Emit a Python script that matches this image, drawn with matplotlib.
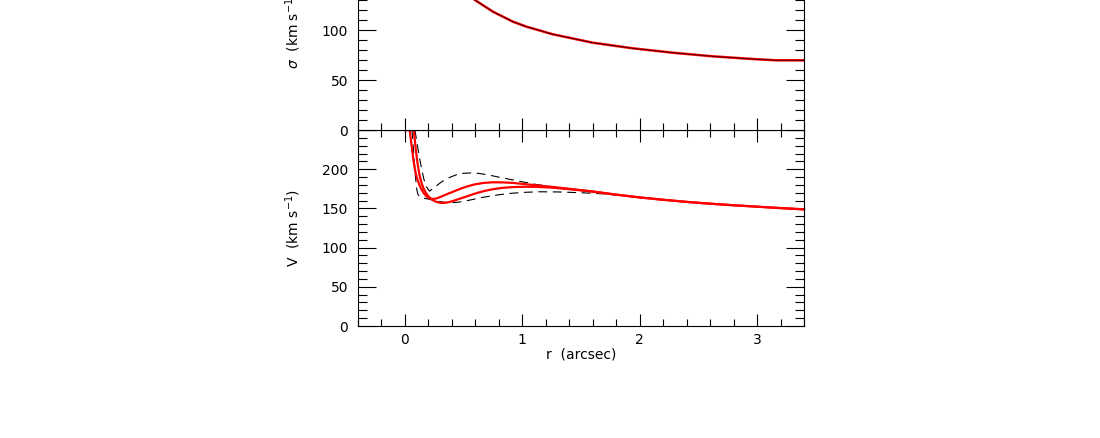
import numpy as np
import matplotlib
matplotlib.use('Agg')
import matplotlib.pyplot as plt
import matplotlib.ticker as mtick

plt.rcParams["font.family"] = "DejaVu Sans"

# sigma profile (top panel, upper part runs outside the frame)
r_sig = [0.30, 0.40, 0.50, 0.596, 0.75, 0.92, 1.036, 1.26, 1.60, 1.94, 2.28, 2.62, 2.96, 3.16, 3.40]
sig = [164, 150, 139, 130, 118.3, 108.3, 103.3, 95.7, 87.3, 81.7, 77.3, 73.7, 71, 69.7, 69.7]

# rotation curves (bottom panel)
r_red1 = [0.0, 0.04, 0.05, 0.06, 0.07, 0.08, 0.09, 0.10, 0.12, 0.14, 0.16, 0.18, 0.20, 0.22,
          0.24, 0.27, 0.30, 0.34, 0.38, 0.43, 0.48, 0.54, 0.60, 0.67, 0.75, 0.83, 0.92, 1.02,
          1.12, 1.25, 1.40, 1.60, 1.80, 2.00, 2.20, 2.40, 2.60, 2.80, 3.00, 3.20, 3.40]
v_red1 = [250, 250, 238, 226, 214, 204, 196, 190, 181, 174.5, 169.5, 166, 163.5, 162.3,
          162, 162.8, 164.5, 167, 169.5, 172.5, 175.5, 178.5, 180.8, 182.5, 183.3, 183.2, 182.5, 181,
          179.5, 177.5, 175, 171.5, 167.5, 164, 161, 158.3, 156, 154, 152.2, 150.4, 148.7]

r_red2 = [0.0, 0.075, 0.085, 0.095, 0.105, 0.115, 0.125, 0.14, 0.16, 0.18, 0.20, 0.22, 0.24,
          0.26, 0.28, 0.30, 0.32, 0.35, 0.38, 0.42, 0.47, 0.53, 0.60, 0.67, 0.75, 0.83, 0.92,
          1.02, 1.12, 1.25, 1.40, 1.60, 1.80, 2.00, 2.20, 2.40, 2.60, 2.80, 3.00, 3.20, 3.40]
v_red2 = [250, 250, 236, 222, 210, 200, 192, 183, 175, 169.5, 165.5, 162.5, 160.3,
          158.8, 157.8, 157.2, 157, 157.3, 158.2, 160, 162.5, 165.5, 169, 172, 174.5, 176.2, 177.2,
          177.6, 177.5, 176.5, 174.5, 171.5, 167.5, 164, 161, 158.3, 156, 154, 152.2, 150.4, 148.7]

r_dash1 = [0.085, 0.10, 0.12, 0.14, 0.16, 0.18, 0.21, 0.24, 0.27, 0.30, 0.34, 0.38, 0.44,
           0.50, 0.56, 0.62, 0.70, 0.78, 0.88, 0.98, 1.10, 1.25, 1.40, 1.60, 1.80, 2.00,
           2.20, 2.40, 2.60, 2.80, 3.00, 3.20, 3.40]
v_dash1 = [250, 236, 218, 202, 188, 178, 172, 175.5, 179, 182.5, 186.5, 189.5, 193,
           194.8, 195.2, 194.8, 193, 190.5, 187.5, 184.5, 181, 177.5, 174.5, 171, 167.5, 164,
           161, 158.3, 156, 154, 152.2, 150.4, 148.7]

r_dash2 = [0.06, 0.07, 0.08, 0.09, 0.10, 0.11, 0.13, 0.18, 0.24, 0.30, 0.38, 0.46, 0.55,
           0.66, 0.78, 0.90, 1.02, 1.15, 1.30, 1.50, 1.70, 2.00, 2.20, 2.40, 2.60, 2.80,
           3.00, 3.20, 3.40]
v_dash2 = [250, 230, 210, 190, 175, 168, 164.5, 162.5, 160.5, 158.5, 157.2, 158, 160.5,
           164, 167, 169.2, 170.5, 171.2, 171, 170, 168.5, 164, 161, 158.3, 156, 154,
           152.2, 150.4, 148.7]

W, H = 1100, 438
fig = plt.figure(figsize=(W / 100, H / 100), dpi=100)

# bottom panel: x 358..804 px, y 130..326 px
ax1 = fig.add_axes([358 / W, (H - 326) / H, 446 / W, 196 / H])
# top panel sits on the bottom one and runs off the top of the figure
ax0 = fig.add_axes([358 / W, (H - 130) / H, 446 / W, 200 / H])

for ax in (ax0, ax1):
    ax.set_xlim(-0.4, 3.4)
    ax.xaxis.set_major_locator(mtick.MultipleLocator(1))
    ax.xaxis.set_minor_locator(mtick.MultipleLocator(0.2))
    ax.yaxis.set_major_locator(mtick.MultipleLocator(50))
    ax.yaxis.set_minor_locator(mtick.MultipleLocator(10))
    ax.tick_params(axis="both", which="both", direction="in", top=True, right=True,
                   labelsize=10, width=0.8, color="black")
    ax.tick_params(axis="y", which="major", length=13, pad=7)
    ax.tick_params(axis="y", which="minor", length=6.5)
    ax.tick_params(axis="x", which="major", length=8.6, pad=5)
    ax.tick_params(axis="x", which="minor", length=4.7)
    for s in ax.spines.values():
        s.set_linewidth(0.8)

# top panel
ax0.set_ylim(0, 200)
ax0.tick_params(axis="x", labelbottom=False)
ax0.yaxis.set_major_formatter(mtick.FuncFormatter(lambda v, p: "" if v > 120 else "%d" % v))
ax0.plot(r_sig, sig, color="red", lw=1.8, solid_joinstyle="round")
ax0.plot(r_sig, sig, color="black", lw=0.6, alpha=0.8, solid_joinstyle="round")
ax0.set_ylabel(r"$\sigma$  (km s$^{-1}$)", fontsize=10)
ax0.yaxis.set_label_coords((303 - 358) / 446, 0.5)

# bottom panel
ax1.set_ylim(0, 250)
ax1.yaxis.set_major_formatter(mtick.FuncFormatter(lambda v, p: "" if v > 240 else "%d" % v))
ax1.plot(r_dash1, v_dash1, color="black", lw=0.8, ls=(0, (8, 5)), clip_on=False)
ax1.plot(r_dash2, v_dash2, color="black", lw=0.8, ls=(0, (8, 5)), clip_on=False)
ax1.plot(r_red1, v_red1, color="red", lw=1.6, solid_joinstyle="round", clip_on=False)
ax1.plot(r_red2, v_red2, color="red", lw=1.6, solid_joinstyle="round", clip_on=False)
ax1.set_ylabel(r"V  (km s$^{-1}$)", fontsize=10)
ax1.yaxis.set_label_coords((303 - 358) / 446, 0.5)
ax1.set_xlabel("r  (arcsec)", fontsize=10)
ax1.xaxis.set_label_coords(0.5, (326 - 347) / 196)

plt.savefig("out.png", dpi=100)
plt.close()
